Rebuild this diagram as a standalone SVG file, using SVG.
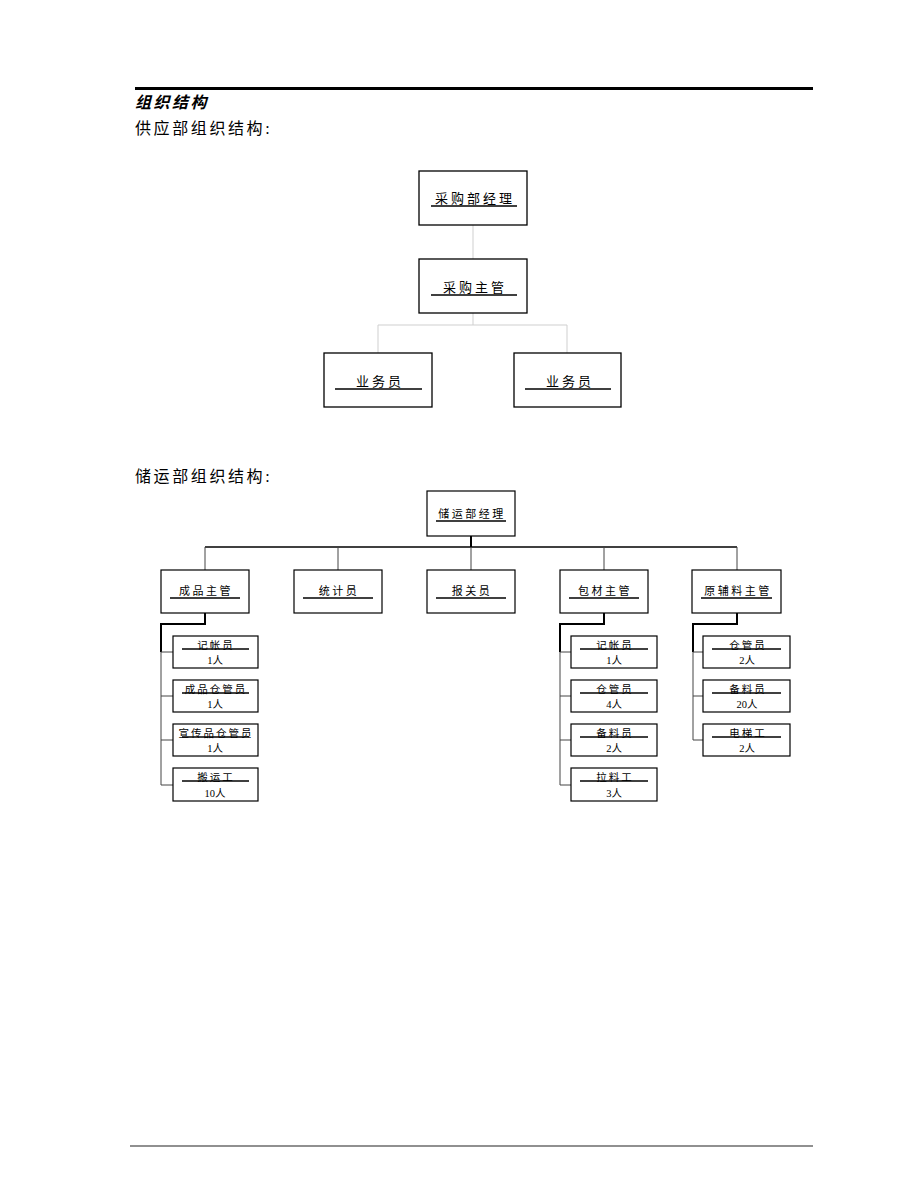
<svg xmlns="http://www.w3.org/2000/svg" width="920" height="1191" viewBox="0 0 920 1191">
<style>
text{font-family:"Liberation Serif","Noto Sans CJK SC",serif;fill:#000;}
.h1{font-size:16px;font-weight:bold;font-style:italic;letter-spacing:2.5px;}
.h2{font-size:16px;letter-spacing:2.6px;}
.b1 rect{fill:#fff;stroke:#000;stroke-width:1.3;}
.b1 text{font-size:13px;letter-spacing:3px;text-anchor:middle;}
.b2 rect{fill:#fff;stroke:#000;stroke-width:1.2;}
.b2 text{font-size:11px;letter-spacing:2.5px;text-anchor:middle;}
.b3 rect{fill:#fff;stroke:#000;stroke-width:1.2;}
.b3 text{font-size:10.5px;letter-spacing:2px;text-anchor:middle;}
.b3 text.n{letter-spacing:0;}
.ul{stroke:#000;stroke-width:1.3;}
.gc{fill:none;stroke:#cfcfcf;stroke-width:1;}
.tk{fill:none;stroke:#000;stroke-width:2;}
.tn{fill:none;stroke:#444;stroke-width:1;}
</style>

<line x1="135" y1="88.5" x2="813" y2="88.5" stroke="#000" stroke-width="3"/>
<line x1="130" y1="1146" x2="813" y2="1146" stroke="#222" stroke-width="1.2"/>
<text class="h1" x="135" y="108">组织结构</text>
<text class="h2" x="135" y="134">供应部组织结构:</text>
<text class="h2" x="135" y="482">储运部组织结构:</text>

<g id="connectors">
<path class="gc" d="M473,225V259M473,313V325M378,325H567M378,325V353M567,325V353"/>
<path class="tk" d="M471,536V547"/>
<path d="M205,547H737" fill="none" stroke="#000" stroke-width="1.5"/>
<path class="tn" d="M205,547V570M338,547V570M471,547V570M604,547V570M737,547V570"/>
<path class="tk" d="M205,613V624H161V652"/>
<path class="tn" d="M161,652V785M161,652H173M161,696H173M161,740H173M161,785H173"/>
<path class="tk" d="M604,613V624H560V652"/>
<path class="tn" d="M560,652V785M560,652H571M560,696H571M560,740H571M560,785H571"/>
<path class="tk" d="M737,613V624H693V652"/>
<path class="tn" d="M693,652V740M693,652H703M693,696H703M693,740H703"/>
</g>

<g id="n_cgjl" class="b1"><rect x="419" y="171" width="108" height="54"/><text x="475" y="203">采购部经理</text><line class="ul" x1="431" y1="206" x2="517" y2="206"/></g>
<g id="n_cgzg" class="b1"><rect x="419" y="259" width="108" height="54"/><text x="475" y="292">采购主管</text><line class="ul" x1="431" y1="295" x2="517" y2="295"/></g>
<g id="n_ywy1" class="b1"><rect x="324" y="353" width="108" height="54"/><text x="380" y="386">业务员</text><line class="ul" x1="335" y1="389" x2="422" y2="389"/></g>
<g id="n_ywy2" class="b1"><rect x="514" y="353" width="107" height="54"/><text x="570" y="386">业务员</text><line class="ul" x1="525" y1="389" x2="611" y2="389"/></g>

<g id="n_cyjl" class="b2"><rect x="427" y="491" width="88" height="45"/><text x="472" y="518">储运部经理</text><line class="ul" x1="436" y1="521" x2="506" y2="521"/></g>
<g id="n_cpzg" class="b2"><rect x="161" y="570" width="88" height="43"/><text x="206" y="595">成品主管</text><line class="ul" x1="170" y1="598" x2="240" y2="598"/></g>
<g id="n_tjy" class="b2"><rect x="294" y="570" width="88" height="43"/><text x="339" y="595">统计员</text><line class="ul" x1="303" y1="598" x2="373" y2="598"/></g>
<g id="n_bgy" class="b2"><rect x="427" y="570" width="88" height="43"/><text x="472" y="595">报关员</text><line class="ul" x1="436" y1="598" x2="506" y2="598"/></g>
<g id="n_bczg" class="b2"><rect x="560" y="570" width="88" height="43"/><text x="605" y="595">包材主管</text><line class="ul" x1="569" y1="598" x2="639" y2="598"/></g>
<g id="n_yflzg" class="b2"><rect x="692" y="570" width="89" height="43"/><text x="738" y="595">原辅料主管</text><line class="ul" x1="701" y1="598" x2="772" y2="598"/></g>

<g id="n_c1" class="b3"><rect x="173" y="636" width="85" height="32"/><text x="216" y="648.5">记帐员</text><line class="ul" x1="182" y1="649" x2="249" y2="649"/><text class="n" x="215" y="664">1人</text></g>
<g id="n_c2" class="b3"><rect x="173" y="680" width="85" height="32"/><text x="216" y="692.5">成品仓管员</text><line class="ul" x1="182" y1="693" x2="249" y2="693"/><text class="n" x="215" y="708">1人</text></g>
<g id="n_c3" class="b3"><rect x="173" y="724" width="85" height="32"/><text x="216" y="736.5">宣传品仓管员</text><line class="ul" x1="182" y1="737" x2="249" y2="737"/><text class="n" x="215" y="752">1人</text></g>
<g id="n_c4" class="b3"><rect x="173" y="768" width="85" height="33"/><text x="216" y="780.5">搬运工</text><line class="ul" x1="182" y1="781" x2="249" y2="781"/><text class="n" x="215" y="797">10人</text></g>

<g id="n_b1" class="b3"><rect x="571" y="636" width="86" height="32"/><text x="615" y="648.5">记帐员</text><line class="ul" x1="580" y1="649" x2="648" y2="649"/><text class="n" x="614" y="664">1人</text></g>
<g id="n_b2" class="b3"><rect x="571" y="680" width="86" height="32"/><text x="615" y="692.5">仓管员</text><line class="ul" x1="580" y1="693" x2="648" y2="693"/><text class="n" x="614" y="708">4人</text></g>
<g id="n_b3" class="b3"><rect x="571" y="724" width="86" height="32"/><text x="615" y="736.5">备料员</text><line class="ul" x1="580" y1="737" x2="648" y2="737"/><text class="n" x="614" y="752">2人</text></g>
<g id="n_b4" class="b3"><rect x="571" y="768" width="86" height="33"/><text x="615" y="780.5">拉料工</text><line class="ul" x1="580" y1="781" x2="648" y2="781"/><text class="n" x="614" y="797">3人</text></g>

<g id="n_y1" class="b3"><rect x="703" y="636" width="87" height="32"/><text x="748" y="648.5">仓管员</text><line class="ul" x1="712" y1="649" x2="781" y2="649"/><text class="n" x="747" y="664">2人</text></g>
<g id="n_y2" class="b3"><rect x="703" y="680" width="87" height="32"/><text x="748" y="692.5">备料员</text><line class="ul" x1="712" y1="693" x2="781" y2="693"/><text class="n" x="747" y="708">20人</text></g>
<g id="n_y3" class="b3"><rect x="703" y="724" width="87" height="32"/><text x="748" y="736.5">电梯工</text><line class="ul" x1="712" y1="737" x2="781" y2="737"/><text class="n" x="747" y="752">2人</text></g>
</svg>
